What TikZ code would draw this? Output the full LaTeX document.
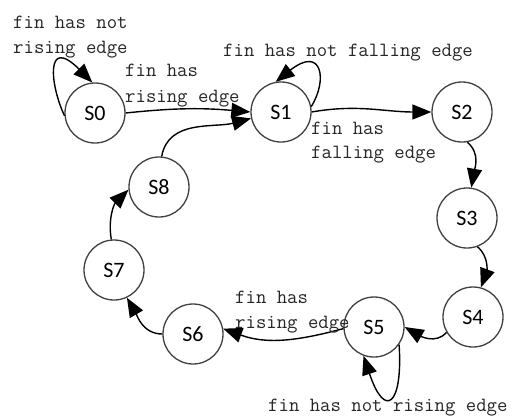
\documentclass[tikz,border=0pt]{standalone}
\usepackage{fontspec}
\setmainfont{Liberation Serif}
\newfontfamily\statefont{Carlito}
\usetikzlibrary{arrows.meta}
\begin{document}
\begin{tikzpicture}[x=1pt,y=1pt,
  state/.style={circle,draw=black!75,line width=1.3pt,minimum size=60pt,inner sep=0pt,font=\statefont\fontsize{22}{22}\selectfont},
  lbl/.style={anchor=base west,inner sep=0pt,font=\ttfamily\fontsize{20.2}{22}\selectfont,text=black!85},
  trans/.style={line width=1.4pt,-{Triangle[length=19pt,width=15pt]}}]
\path[use as bounding box] (0,0) rectangle (512,-418);
% states
\node[state] (S0) at (95,-113) {S0};
\node[state] (S1) at (281,-112) {S1};
\node[state] (S2) at (462,-112) {S2};
\node[state] (S3) at (467,-218) {S3};
\node[state] (S4) at (473,-317) {S4};
\node[state] (S5) at (374,-327) {S5};
\node[state] (S6) at (193,-334) {S6};
\node[state] (S7) at (114,-270) {S7};
\node[state] (S8) at (159,-187) {S8};
% transitions
\draw[trans] (S0.185) .. controls (50,-85) and (45,-35) .. (S0.95);
\draw[trans] (S0.east) to[out=6,in=175] (S1.west);
\draw[trans] (S8.85) to[out=80,in=195] (S1.192);
\draw[trans] (S1.10) .. controls (328,-80) and (322,-45) .. (S1.100);
\draw[trans] (S1.0) to[out=10,in=180] (S2.180);
\draw[trans] (S2.-80) to[out=-40,in=80] (S3.82);
\draw[trans] (S3.-70) to[out=-40,in=70] (S4.75);
\draw[trans] (S4.210) to[out=230,in=-30] (S5.0);
\draw[trans] (S5.-35) .. controls (403,-405) and (385,-420) .. (S5.-110);
\draw[trans] (S5.183) to[out=195,in=-20] (S6.10);
\draw[trans] (S6.180) to[out=180,in=-60] (S7.-65);
\draw[trans] (S7.95) to[out=100,in=225] (S8.185);
% labels
\node[lbl] (l0a) at (13,-28) {fin has not};
\node[lbl] (l0b) at (13,-53) {rising edge};
\node[lbl] (l1a) at (125,-76) {fin has};
\node[lbl] (l1b) at (125,-102) {rising edge};
\node[lbl] (l2) at (223,-56) {fin has not falling edge};
\node[lbl] (l3a) at (311,-134) {fin has};
\node[lbl] (l3b) at (311,-158) {falling edge};
\node[lbl] (l4a) at (235,-303) {fin has};
\node[lbl] (l4b) at (235,-328) {rising edge};
\node[lbl] (l5) at (268,-411) {fin has not rising edge};
\end{tikzpicture}
\end{document}
